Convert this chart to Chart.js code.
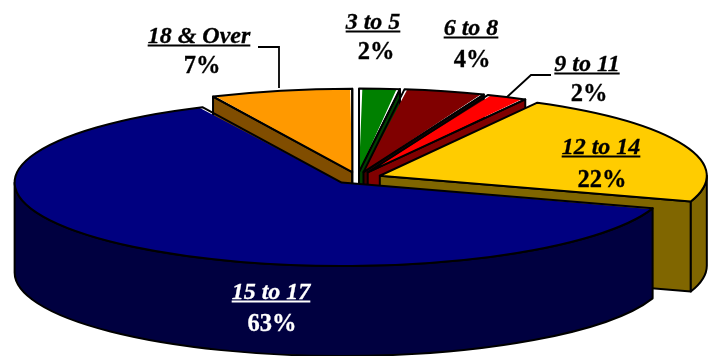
<!DOCTYPE html>
<html>
<head>
<meta charset="utf-8">
<style>
  html, body { margin: 0; padding: 0; background: #fff; }
  canvas { display: block; }
</style>
<script src="https://cdn.jsdelivr.net/npm/chart.js@4"></script>
</head>
<body>
<canvas id="pie" width="712" height="356"></canvas>
<script>
// back-to-front order, so the big front slice paints last
const categories = ['18 & Over', '3 to 5', '6 to 8', '9 to 11', '12 to 14', '15 to 17'];
const shares = [7, 2, 4, 2, 22, 63];

const topColors = ['#FF9900', '#008000', '#800000', '#FF0000', '#FFCC00', '#000080'];
const sideColors = ['#804D00', '#004000', '#400000', '#800000', '#806600', '#000040'];
const labelColors = ['#000', '#000', '#000', '#000', '#000', '#fff'];

// name centre x, name baseline, percent centre x, percent baseline
const labelSpots = [
    [199, 43, 202, 73],
    [373, 29, 376, 59],
    [471, 35, 472, 67],
    [587, 71, 589, 101],
    [601, 154, 602, 187],
    [271, 299, 272, 331]
];
const leaders = [
    [[258, 47], [279, 47], [279, 88]],
    [[551, 75], [531, 75], [507, 97]]
];

const radius = 327;
const explode = 24;
const tilt = 0.255;
const depth = 90;
const total = shares.reduce((a, b) => a + b, 0);

function sliceGeom(arc) {
    const mid = (arc.startAngle + arc.endAngle) / 2;
    return {
        cx: arc.x + Math.cos(mid) * explode,
        cy: arc.y + Math.sin(mid) * explode * tilt,
        ry: radius * tilt,
        a0: arc.startAngle,
        a1: arc.endAngle
    };
}

function cutFace(ctx, g, angle) {
    const px = g.cx + Math.cos(angle) * radius;
    const py = g.cy + Math.sin(angle) * g.ry;
    ctx.beginPath();
    ctx.moveTo(g.cx, g.cy);
    ctx.lineTo(px, py);
    ctx.lineTo(px, py + depth);
    ctx.lineTo(g.cx, g.cy + depth);
    ctx.closePath();
    ctx.fill();
    ctx.stroke();
}

const pie3d = {
    id: 'pie3d',
    afterDatasetsUpdate(chart) {
        // Chart.js grows narrow slices when they have an offset, undo that
        chart.getDatasetMeta(0).data.forEach(arc => {
            const fix = 1 - Math.sin(Math.min(Math.PI, arc.endAngle - arc.startAngle));
            arc.outerRadius = radius - explode * fix;
        });
    },
    beforeDatasetDraw(chart) {
        const ctx = chart.ctx;
        const arcs = chart.getDatasetMeta(0).data;
        ctx.save();
        ctx.strokeStyle = '#000';
        ctx.lineWidth = 2;
        ctx.lineJoin = 'round';
        arcs.forEach((arc, i) => {
            const g = sliceGeom(arc);
            ctx.fillStyle = sideColors[i];
            if (Math.cos(g.a0) < 0) cutFace(ctx, g, g.a0);
            if (Math.cos(g.a1) > 0) cutFace(ctx, g, g.a1);
            const from = Math.max(g.a0, 0);
            const to = Math.min(g.a1, Math.PI);
            if (to > from) {
                ctx.beginPath();
                ctx.ellipse(g.cx, g.cy, radius, g.ry, 0, from, to);
                ctx.ellipse(g.cx, g.cy + depth, radius, g.ry, 0, to, from, true);
                ctx.closePath();
                ctx.fill();
                ctx.stroke();
            }
        });
        ctx.restore();

        // the library draws the top faces squashed into the tilt
        const cy = arcs[0].y;
        ctx.save();
        ctx.translate(0, cy);
        ctx.scale(1, tilt);
        ctx.translate(0, -cy);
    },
    afterDatasetDraw(chart) {
        const ctx = chart.ctx;
        ctx.restore();
        ctx.save();
        ctx.strokeStyle = '#000';
        ctx.lineWidth = 2;
        ctx.lineJoin = 'round';
        chart.getDatasetMeta(0).data.forEach(arc => {
            const g = sliceGeom(arc);
            ctx.beginPath();
            ctx.moveTo(g.cx, g.cy);
            ctx.ellipse(g.cx, g.cy, radius, g.ry, 0, g.a0, g.a1);
            ctx.closePath();
            ctx.stroke();
        });
        ctx.restore();
    },
    afterDraw(chart) {
        const ctx = chart.ctx;
        ctx.save();
        ctx.strokeStyle = '#000';
        ctx.lineWidth = 1.8;
        leaders.forEach(line => {
            ctx.beginPath();
            line.forEach((p, i) => i ? ctx.lineTo(p[0], p[1]) : ctx.moveTo(p[0], p[1]));
            ctx.stroke();
        });
        ctx.textAlign = 'center';
        ctx.textBaseline = 'alphabetic';
        categories.forEach((name, i) => {
            const [x, nameY, pctX, pctY] = labelSpots[i];
            ctx.fillStyle = labelColors[i];
            ctx.strokeStyle = labelColors[i];
            ctx.lineWidth = 0.3;
            ctx.font = 'italic bold 24px "Liberation Serif"';
            ctx.fillText(name, x, nameY);
            ctx.strokeText(name, x, nameY);
            const w = ctx.measureText(name).width;
            ctx.fillRect(x - w / 2, nameY + 1.5, w, 2);
            ctx.font = 'bold 24.5px "Liberation Serif"';
            ctx.fillText(shares[i] + '%', pctX, pctY);
            ctx.strokeText(shares[i] + '%', pctX, pctY);
        });
        ctx.restore();
    }
};

new Chart(document.getElementById('pie'), {
    type: 'pie',
    data: {
        labels: categories,
        datasets: [{
            data: shares,
            backgroundColor: topColors,
            borderWidth: 0,
            offset: explode * 4,
            clip: false
        }]
    },
    options: {
        responsive: false,
        animation: false,
        radius: radius,
        rotation: -shares[0] / total * 360,
        layout: { padding: { left: 3 } },
        plugins: {
            legend: { display: false },
            tooltip: { enabled: false }
        }
    },
    plugins: [pie3d]
});
</script>
</body>
</html>
